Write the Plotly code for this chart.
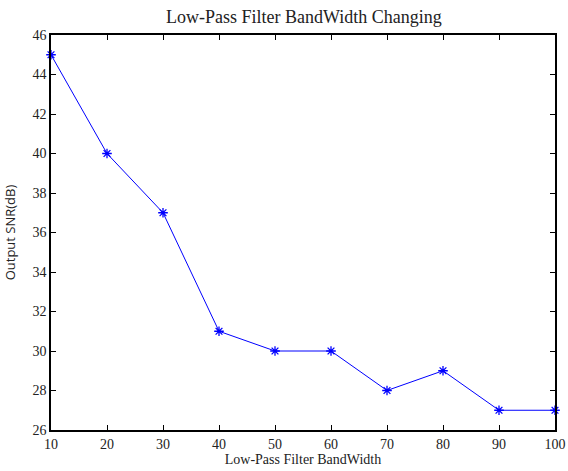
import plotly.graph_objects as go

bandwidth = [10, 20, 30, 40, 50, 60, 70, 80, 90, 100]
snr_db = [45, 40, 37, 31, 30, 30, 28, 29, 27, 27]
x_ticks = [10, 20, 30, 40, 50, 60, 70, 80, 90, 100]
y_ticks = [26, 28, 30, 32, 34, 36, 38, 40, 42, 44, 46]

fig = go.Figure()
fig.add_trace(go.Scatter(
    x=bandwidth, y=snr_db, mode="lines+markers",
    line=dict(color="rgb(0,0,255)", width=1),
    marker=dict(symbol="asterisk-open", size=8, color="rgb(0,0,255)",
                line=dict(color="rgb(0,0,255)", width=1.3)),
    cliponaxis=False, showlegend=False,
))

axis_common = dict(
    showgrid=False, zeroline=False, showline=True, linecolor="black", linewidth=1.5,
    mirror="ticks", ticks="inside", ticklen=5, tickwidth=1, tickcolor="black",
    tickfont=dict(family="Liberation Serif", size=14, color="#222"),
    automargin=False,
)
fig.update_xaxes(range=[10, 100], tickvals=x_ticks,
                 title=dict(text="Low-Pass Filter BandWidth", standoff=4,
                            font=dict(family="Liberation Serif", size=14, color="#222")),
                 **axis_common)
fig.update_yaxes(range=[26, 46], tickvals=y_ticks,
                 title=dict(text="Output SNR(dB)", standoff=14,
                            font=dict(family="Open Sans", size=13, color="#222")),
                 **axis_common)
fig.update_layout(
    width=568, height=471,
    margin=dict(l=51, r=13, t=35, b=41),
    paper_bgcolor="white", plot_bgcolor="white",
    title=dict(text="Low-Pass Filter BandWidth Changing", x=0.535, xanchor="center",
               y=0.964, yanchor="middle",
               font=dict(family="Liberation Serif", size=18, color="#222")),
)
fig.write_html("out.html", config={"displayModeBar": False},
               post_script="document.body.style.margin='0';document.body.style.overflow='hidden';")
